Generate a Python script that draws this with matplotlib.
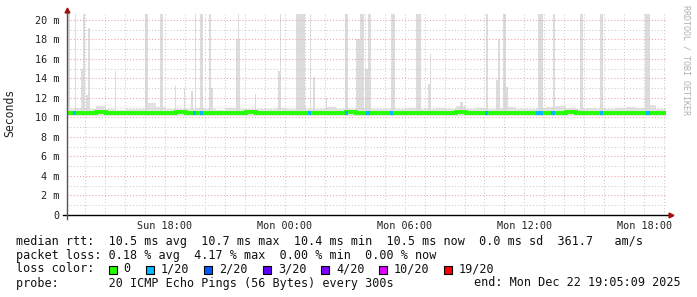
import numpy as np
import matplotlib.pyplot as plt
from matplotlib.patches import Rectangle

plt.rcParams['font.family'] = 'DejaVu Sans Mono'

# hours since Sun 13:05 (end of graph = 30 h, Mon 19:05)
# median rtt in ms, one value per 30 min
median_ms = [10.5, 10.5, 10.5, 10.53, 10.5, 10.5, 10.47, 10.5, 10.5, 10.5,
             10.5, 10.53, 10.5, 10.5, 10.5, 10.47, 10.5, 10.5, 10.53, 10.5,
             10.5, 10.5, 10.5, 10.47, 10.5, 10.5, 10.5, 10.5, 10.53, 10.5,
             10.5, 10.5, 10.47, 10.5, 10.5, 10.5, 10.5, 10.5, 10.5, 10.53,
             10.5, 10.5, 10.5, 10.5, 10.47, 10.5, 10.5, 10.5, 10.5, 10.5,
             10.53, 10.5, 10.5, 10.5, 10.5, 10.5, 10.47, 10.5, 10.5, 10.5]
# top of the regular smoke band, one value per 30 min
smoke_top = [10.9, 11.0, 10.9, 11.2, 10.9, 10.8, 10.9, 10.9, 11.5, 11.1,
             10.9, 10.9, 10.9, 11.0, 10.9, 10.8, 11.0, 10.9, 10.9, 10.9,
             10.9, 11.0, 10.9, 11.2, 10.9, 10.9, 11.1, 10.9, 10.9, 11.0,
             10.9, 10.9, 10.9, 10.9, 11.0, 10.9, 10.9, 11.0, 10.9, 11.2,
             10.9, 11.0, 10.9, 11.0, 11.1, 10.9, 10.9, 11.0, 11.1, 11.2,
             11.0, 10.9, 11.0, 10.9, 10.9, 11.0, 11.1, 11.0, 11.3, 10.9]
smoke_low = 10.15

# outlier pings (start h, end h, top ms)
spike_start = [0.03, 0.43, 0.73, 0.83, 0.98, 1.08, 2.43, 3.93, 4.68, 5.43,
               5.88, 6.23, 6.43, 6.68, 7.13, 7.23, 8.48, 8.58, 9.43, 10.58,
               10.68, 11.48, 12.18, 12.33, 12.98, 13.93, 14.48, 14.68, 14.93, 15.08,
               16.23, 17.48, 18.08, 18.18, 19.68, 20.98, 21.48, 21.58, 21.83, 21.93,
               23.58, 24.33, 25.68, 26.68, 28.93]
spike_end = [0.18, 0.50, 0.88, 0.93, 1.08, 1.18, 2.48, 4.08, 4.83, 5.48,
             5.93, 6.33, 6.48, 6.83, 7.23, 7.33, 8.68, 8.63, 9.48, 10.73,
             10.73, 11.93, 12.23, 12.43, 13.03, 14.08, 14.68, 14.88, 15.08, 15.23,
             16.43, 17.73, 18.18, 18.23, 19.83, 21.08, 21.63, 21.68, 21.98, 22.08,
             23.83, 24.43, 25.83, 26.83, 29.18]
spike_top = [20.6, 20.6, 15.0, 20.6, 12.3, 19.2, 14.8, 20.6, 20.6, 13.2,
             13.0, 12.7, 20.6, 20.6, 20.6, 13.0, 18.0, 20.6, 12.4, 14.8,
             20.6, 20.6, 20.6, 14.2, 12.0, 20.6, 18.0, 20.6, 15.0, 20.6,
             20.6, 20.6, 13.4, 16.5, 11.6, 20.6, 13.8, 18.0, 20.6, 13.1,
             20.6, 20.6, 20.6, 20.6, 20.6]

# packet loss periods (start h, end h, lost pings of 20)
loss_start = [0.33, 6.33, 6.68, 12.08, 13.93, 14.98, 16.18, 20.93, 23.48, 24.23, 26.68, 28.98]
loss_end = [0.48, 6.48, 6.83, 12.23, 14.08, 15.18, 16.33, 21.08, 23.83, 24.43, 26.83, 29.18]
loss_n = [1, 1, 1, 1, 1, 1, 1, 1, 1, 1, 1, 1]

loss_levels = ['0', '1/20', '2/20', '3/20', '4/20', '10/20', '19/20']
loss_colors = ['#26ff00', '#00b8ff', '#0059ff', '#5e00ff', '#7e00ff', '#dd00ff', '#ff0000']
loss_color_of = {0: '#26ff00', 1: '#00b8ff', 2: '#0059ff', 3: '#5e00ff', 4: '#7e00ff'}

W, H = 697, 297
fig = plt.figure(figsize=(W / 100, H / 100), dpi=100)
ax = fig.add_axes([66.5 / W, 82 / H, 599.5 / W, 203 / H])
ax.set_xlim(0, 30)
ax.set_ylim(0, 20.82)
for s in ax.spines.values():
    s.set_visible(False)

dots = (0, (1, 2))
# grid
for h in np.arange(55 / 60, 30, 1.0):
    major = abs(((h - 55 / 60) - 1) % 3) < 1e-6
    ax.axvline(h, color='#f2a0a0' if major else '#cccccc', lw=0.75, ls=dots, zorder=2)
for v in range(1, 21):
    ax.axhline(v, color='#f2a0a0' if v % 2 == 0 else '#cccccc', lw=0.75, ls=dots, zorder=2)

# smoke
edges = np.arange(len(median_ms) + 1) * 0.5
ax.stairs(smoke_top, edges, baseline=smoke_low, fill=True, color='#e2e2e2', zorder=1)
left = np.array(spike_start)
ax.bar(left, np.array(spike_top) - smoke_low, width=np.array(spike_end) - left,
       bottom=smoke_low, align='edge', color='#dcdcdc', lw=0, zorder=1)

# median line coloured by loss
ax.stairs(median_ms, edges, color=loss_colors[0], lw=2.8, baseline=None, zorder=3)
for a, b, n in zip(loss_start, loss_end, loss_n):
    m = median_ms[int(a / 0.5)]
    ax.hlines(m, a, b, color=loss_color_of[n], lw=2.8, zorder=4)

# axes lines and arrows
ax.plot([-0.2, 30.2], [0, 0], color='black', lw=1, clip_on=False, zorder=5)
ax.plot([0, 0], [-0.4, 20.9], color='#555555', lw=1, clip_on=False, zorder=5)
ax.plot([30.25], [0], marker='>', ms=3.5, color='#a01010', clip_on=False, zorder=6)
ax.plot([0], [21.0], marker='^', ms=3.5, color='#a01010', clip_on=False, zorder=6)

# ticks
ax.set_yticks(range(0, 21, 2))
ax.set_yticklabels(['0'] + [f'{v} m' for v in range(2, 21, 2)])
ax.set_xticks(np.arange(4 + 55 / 60, 30, 6))
ax.set_xticklabels(['Sun 18:00', 'Mon 00:00', 'Mon 06:00', 'Mon 12:00', 'Mon 18:00'])
ax.tick_params(axis='y', length=0, pad=5, labelsize=7.3, labelcolor='#222222')
ax.tick_params(axis='x', length=0, pad=4.5, labelsize=7.3, labelcolor='#222222')

fig.text(10 / W, 1 - 113 / H, 'Seconds', rotation=90, ha='center', va='center',
         fontsize=8.3, color='#222222')
fig.text(686 / W, 1 - 60 / H, 'RRDTOOL / TOBI OETIKER', rotation=270, ha='center',
         va='center', fontsize=6.0, color='#b0b0b0')

# legend
fs = 8.5
lines = [
    'median rtt:  10.5 ms avg  10.7 ms max  10.4 ms min  10.5 ms now  0.0 ms sd  361.7   am/s',
    'packet loss: 0.18 % avg  4.17 % max  0.00 % min  0.00 % now',
    'loss color:',
    'probe:       20 ICMP Echo Pings (56 Bytes) every 300s',
]
for i, t in enumerate(lines):
    fig.text(16 / W, 1 - (241 + 14 * i) / H, t, ha='left', va='center', fontsize=fs,
             color='#111111')
fig.text(681 / W, 1 - 283 / H, 'end: Mon Dec 22 19:05:09 2025', ha='right', va='center',
         fontsize=fs, color='#111111')

box_x = [108.5, 146, 204, 263, 321, 379, 444]
for x, lab, c in zip(box_x, loss_levels, loss_colors):
    fig.add_artist(Rectangle((x / W, 1 - 273.5 / H), 8 / W, 8 / H, transform=fig.transFigure,
                             facecolor=c, edgecolor='black', lw=0.8))
    fig.text((x + 15) / W, 1 - 269 / H, lab, ha='left', va='center', fontsize=fs,
             color='#111111')

fig.savefig('out.png', dpi=100, facecolor='white')
